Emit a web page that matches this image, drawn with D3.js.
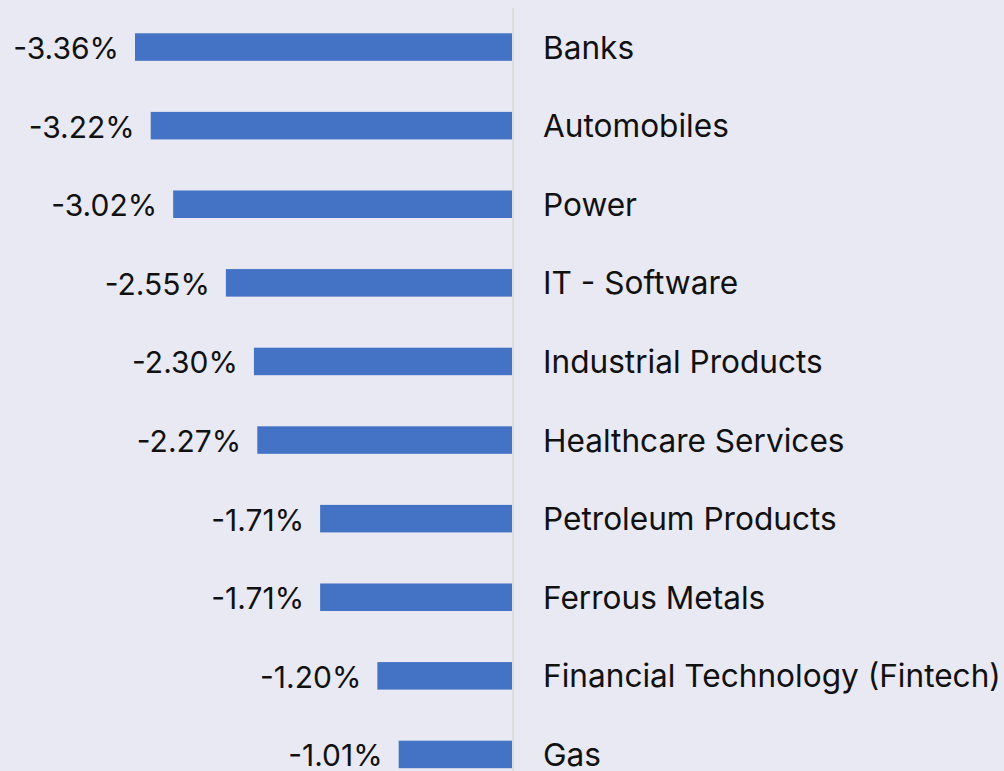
<!DOCTYPE html>
<html><head><meta charset="utf-8">
<script src="https://cdn.jsdelivr.net/npm/d3@7"></script>
<style>
html,body{margin:0;padding:0;background:#e8e9f3;}
svg{display:block;}
text{font-family:Inter,"Noto Sans",sans-serif;fill:#111;}
</style></head><body>
<svg id="chart" width="1004" height="771"></svg>
<script>
const categories = ["Banks","Automobiles","Power","IT - Software","Industrial Products","Healthcare Services","Petroleum Products","Ferrous Metals","Financial Technology (Fintech)","Gas"];
const values = [-3.36,-3.22,-3.02,-2.55,-2.30,-2.27,-1.71,-1.71,-1.20,-1.01];

const svg = d3.select("#chart");
const W = 1004, H = 771;
svg.append("rect").attr("width",W).attr("height",H).attr("fill","#e8e9f3");

const x = d3.scaleLinear().domain([-3.36,0]).range([135,512]);
const y = d3.scaleBand().domain(categories).range([7.75, 7.75+78.6*categories.length]).paddingInner(0.65).paddingOuter(0.325);

const data = categories.map((c,i)=>({c, v: values[i]}));
const fmt = v => v.toFixed(2) + "%";

svg.selectAll("rect.bar").data(data).join("rect").attr("class","bar")
  .attr("x", d=>x(d.v)).attr("width", d=>x(0)-x(d.v))
  .attr("y", d=>y(d.c)).attr("height", y.bandwidth())
  .attr("fill","#4472c4");

svg.append("line").attr("x1",x(0)+1).attr("x2",x(0)+1).attr("y1",8).attr("y2",H)
  .attr("stroke","#d9d9d9").attr("stroke-width",1.5);

svg.selectAll("text.val").data(data).join("text").attr("class","val")
  .attr("x", d=>x(d.v)-16).attr("y", d=>y(d.c)+y.bandwidth()/2+1)
  .attr("text-anchor","end").attr("dominant-baseline","central")
  .attr("font-size",30).text(d=>fmt(d.v));

svg.selectAll("text.cat").data(data).join("text").attr("class","cat")
  .attr("x", x(0)+31).attr("y", d=>y(d.c)+y.bandwidth()/2)
  .attr("dominant-baseline","central")
  .attr("font-size",31.6).text(d=>d.c);
</script>
</body></html>
